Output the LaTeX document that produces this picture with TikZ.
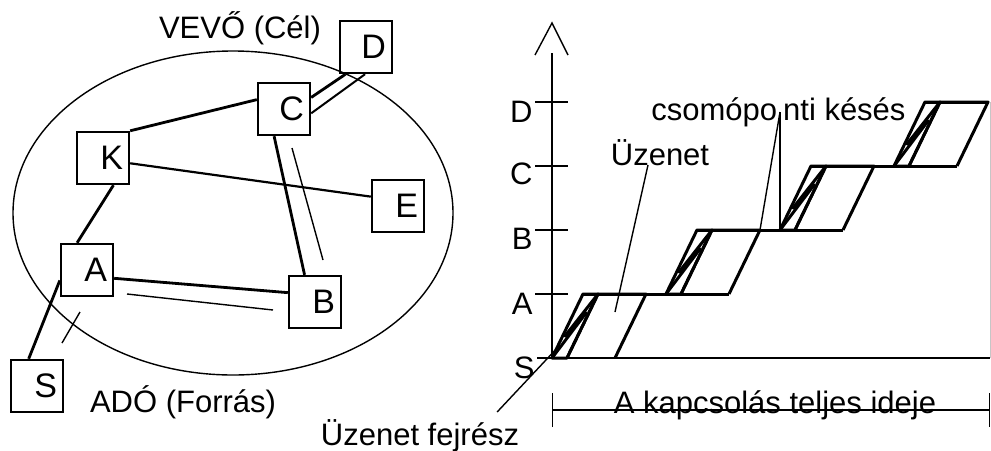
\documentclass[tikz,border=0pt]{standalone}
\usepackage{fontspec}
\setmainfont{Liberation Sans}
\usetikzlibrary{calc,arrows.meta}

\begin{document}
\begin{tikzpicture}[x=0.5pt,y=-0.5pt,
        every node/.style={font=\fontsize{15.5pt}{18pt}\selectfont},
        box/.style={draw,line width=1.2pt,minimum height=26pt,text width=20pt,inner xsep=3pt,align=right,font=\fontsize{17pt}{20pt}\selectfont},
        link/.style={line width=1.4pt},
        trail/.style={line width=0.7pt},
        hop/.style={line width=1.5pt,line join=round},
        pointer/.style={line width=0.7pt}]
        \useasboundingbox (0,0) rectangle (991,450);

        % network
        \draw[line width=0.7pt] (233,213) ellipse [x radius=220, y radius=162];
        \node[box] (S) at (37,386) {S};
        \node[box] (A) at (87,270) {A};
        \node[box] (K) at (103,158) {K};
        \node[box] (C) at (284,109) {C};
        \node[box] (D) at (366,47) {D};
        \node[box] (E) at (398,206) {E};
        \node[box] (B) at (315,302) {B};

        % links
        \draw[link] (S.107) -- (A.201);
        \draw[link] (A.110) -- (K.291);
        \draw[link] (K.north east) -- (C.161);
        \draw[link,line width=1.1pt] (K.349) -- (E.161);
        \draw[link] (A.343) -- (B.161);
        \draw[link] (C.250) -- (B.111);
        \draw[link] (C.23) -- (D.233);
        \draw[link,line width=1pt] (C.351) -- (D.268);
        % path of the message
        \draw[trail] (80,312) -- (62,343);
        \draw[trail] (127,294) -- (273,310);
        \draw[trail] (292,148) -- (323,260);

        \node[anchor=base] (vevo) at (240,38) {VEVŐ (Cél)};
        \node[anchor=base] (ado) at (183,412) {ADÓ (Forrás)};

        % axes
        \draw[line width=0.7pt] (552,358) -- (552,53);
        \draw[line width=0.7pt] (535,55) -- (552,23) -- (568,55);
        \draw[line width=1.1pt] (537,358) -- (990,358);
        \draw[gray!45,line width=0.5pt] (990,102) -- (990,358);
        \draw[line width=0.7pt] (535,294) -- (568,294);
        \draw[line width=0.7pt] (535,230) -- (568,230);
        \draw[line width=0.7pt] (535,166) -- (568,166);
        \draw[line width=0.7pt] (535,102) -- (568,102);
        \node[anchor=east,inner sep=1pt] (tS) at (537,368) {S};
        \node[anchor=east,inner sep=1pt] (tA) at (535,304) {A};
        \node[anchor=east,inner sep=1pt] (tB) at (535,239) {B};
        \node[anchor=east,inner sep=1pt] (tC) at (535,174) {C};
        \node[anchor=east,inner sep=1pt] (tD) at (535,112) {D};

        % S -> A
        \draw[hop] (552,358) -- (583,294) -- (598,294) -- (567,358) -- cycle;
        \draw[hop] (552,358) -- (586,313) -- (565,336) -- (598,294);
        \draw[hop] (567,358) -- (598,294) -- (646,294) -- (615,358);
        % A -> B
        \draw[hop] (666,294) -- (697,230) -- (712,230) -- (681,294) -- cycle;
        \draw[hop] (666,294) -- (700,249) -- (679,272) -- (712,230);
        \draw[hop] (681,294) -- (712,230) -- (760,230) -- (729,294);
        % B -> C
        \draw[hop] (780,230) -- (811,166) -- (826,166) -- (795,230) -- cycle;
        \draw[hop] (780,230) -- (814,185) -- (793,208) -- (826,166);
        \draw[hop] (795,230) -- (826,166) -- (874,166) -- (843,230);
        % C -> D
        \draw[hop] (894,166) -- (925,102) -- (940,102) -- (909,166) -- cycle;
        \draw[hop] (894,166) -- (928,121) -- (907,144) -- (940,102);
        \draw[hop] (909,166) -- (940,102) -- (988,102) -- (957,166);
        % waiting in the nodes
        \draw[hop] (583,294) -- (729,294);
        \draw[hop] (697,230) -- (843,230);
        \draw[hop] (811,166) -- (957,166);
        \draw[hop] (925,102) -- (988,102);

        % labels
        \coordinate (fej) at (560,345);
        \coordinate (msg) at (615,312);
        \coordinate (kes1) at (760,230);
        \coordinate (kes2) at (780,230);
        \node[anchor=base] (uzenet) at (660,165) {Üzenet};
        \draw[pointer] ($(uzenet.base)+(-12,0)$) -- (msg);
        \node[anchor=base west,inner sep=0pt] (keses) at (651,120) {csomópo\hspace{3pt}nti késés};
        \draw[pointer] ($(keses.base west)+(129,-8)$) -- (kes1);
        \draw[pointer] ($(keses.base west)+(129,-8)$) -- (kes2);
        \node[anchor=base] (fejresz) at (420,445) {Üzenet fejrész};
        \draw[pointer] ($(fejresz.base east)+(-29,-33)$) -- (fej);

        % total time
        \draw[line width=0.7pt,{Bar[width=17pt]}-{Bar[width=17pt]}] (552,410) -- (990,410);
        \node[anchor=base] (ideje) at (775,413) {A kapcsolás teljes ideje};
\end{tikzpicture}
\end{document}
